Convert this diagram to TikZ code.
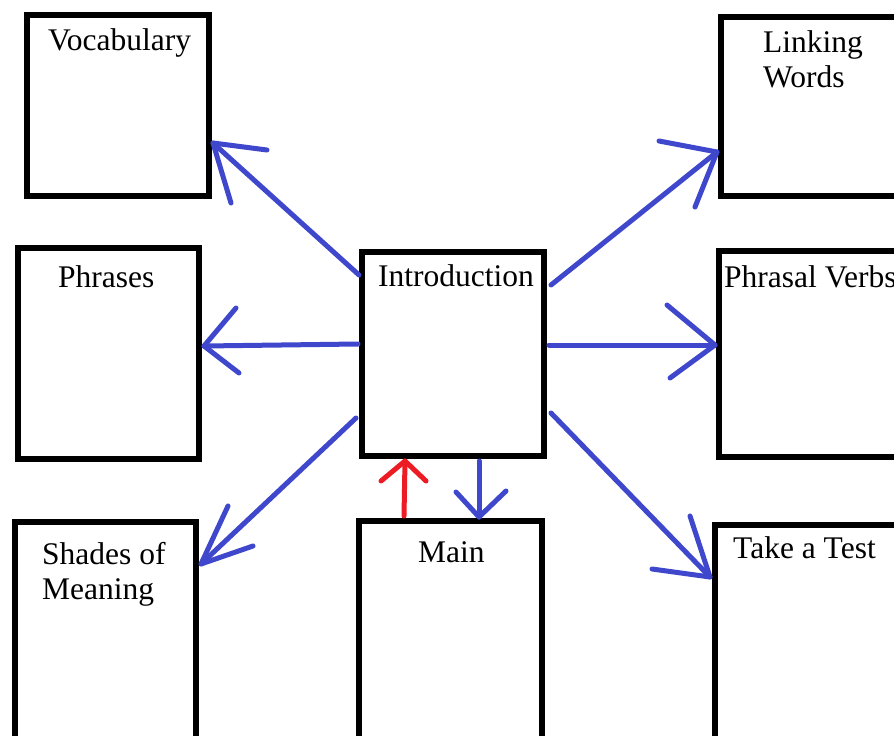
\documentclass[tikz,border=0pt]{standalone}
\usepackage{fontspec}
\setmainfont{Liberation Serif}
\usetikzlibrary{fit}
\definecolor{pblue}{RGB}{63,72,204}
\definecolor{pred}{RGB}{237,28,36}
\tikzset{
  box/.style={draw=black, line width=6pt, inner sep=0pt, fill=none},
  lbl/.style={anchor=base west, inner sep=0pt, font=\fontsize{31.5}{35}\selectfont, align=left},
  barrow/.style={draw=pblue, line width=5pt, line cap=round, line join=round},
  rarrow/.style={draw=pred, line width=5pt, line cap=round, line join=round}
}
\begin{document}
\begin{tikzpicture}[x=1pt,y=-1pt]
\useasboundingbox (0,0) rectangle (894,736);
\clip (0,0) rectangle (894,736);
\fill[white] (0,0) rectangle (894,736);
% boxes
\node[box, fit={(27,15) (209,196)}] (voc) {};
\node[box, fit={(721,17) (910,196)}] (link) {};
\node[box, fit={(18,248) (199,459)}] (phr) {};
\node[box, fit={(362,252) (544,456)}] (intro) {};
\node[box, fit={(719,251) (910,457)}] (pv) {};
\node[box, fit={(15,522) (196,760)}] (shades) {};
\node[box, fit={(359,521) (542,760)}] (main) {};
\node[box, fit={(715,525) (910,760)}] (test) {};
% labels
\node[lbl] (vocT) at (48,50) {Vocabulary};
\node[lbl] (linkT) at (763,87) {Linking\\Words};
\node[lbl] (phrT) at (58,287) {Phrases};
\node[lbl] (introT) at (378,286) {Introduction};
\node[lbl] (pvT) at (724,287) {Phrasal Verbs};
\node[lbl] (mainT) at (418,562) {Main};
\node[lbl] (shadesT) at (42,599) {Shades of\\Meaning};
\node[lbl] (testT) at (733,558) {Take a Test};
% arrow coordinates
\coordinate (a1s) at (359,275); \coordinate (a1t) at (213,143);
\coordinate (a1h1) at (267,150); \coordinate (a1h2) at (231,203);
\coordinate (a2s) at (551,285); \coordinate (a2t) at (717,152);
\coordinate (a2h1) at (659,141); \coordinate (a2h2) at (695,207);
\coordinate (a3s) at (358,344); \coordinate (a3t) at (204,346);
\coordinate (a3h1) at (236,308); \coordinate (a3h2) at (239,373);
\coordinate (a4s) at (549,345); \coordinate (a4t) at (715,345);
\coordinate (a4h1) at (667,305); \coordinate (a4h2) at (670,378);
\coordinate (a5s) at (356,418); \coordinate (a5t) at (201,564);
\coordinate (a5h1) at (228,506); \coordinate (a5h2) at (253,546);
\coordinate (a6s) at (551,413); \coordinate (a6t) at (710,577);
\coordinate (a6h1) at (690,516); \coordinate (a6h2) at (652,569);
\coordinate (a7s) at (404,516); \coordinate (a7t) at (405,461);
\coordinate (a7h1) at (381,481); \coordinate (a7h2) at (426,481);
\coordinate (a8s) at (479,461); \coordinate (a8t) at (479,517);
\coordinate (a8h1) at (456,492); \coordinate (a8h2) at (506,491);
% connectors
\draw[barrow] (a1s) -- (a1t); \draw[barrow] (a1h1) -- (a1t) -- (a1h2);
\draw[barrow] (a2s) -- (a2t); \draw[barrow] (a2h1) -- (a2t) -- (a2h2);
\draw[barrow] (a3s) -- (a3t); \draw[barrow] (a3h1) -- (a3t) -- (a3h2);
\draw[barrow] (a4s) -- (a4t); \draw[barrow] (a4h1) -- (a4t) -- (a4h2);
\draw[barrow] (a5s) -- (a5t); \draw[barrow] (a5h1) -- (a5t) -- (a5h2);
\draw[barrow] (a6s) -- (a6t); \draw[barrow] (a6h1) -- (a6t) -- (a6h2);
\draw[rarrow] (a7s) -- (a7t); \draw[rarrow] (a7h1) -- (a7t) -- (a7h2);
\draw[barrow] (a8s) -- (a8t); \draw[barrow] (a8h1) -- (a8t) -- (a8h2);
\end{tikzpicture}
\end{document}
